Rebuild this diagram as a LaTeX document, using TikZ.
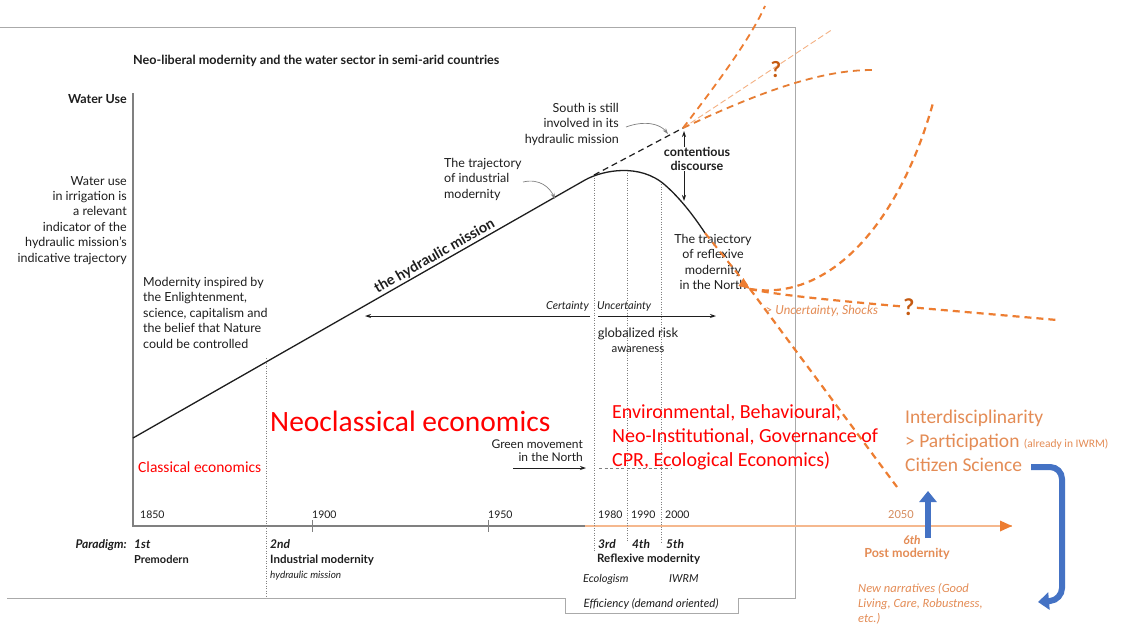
\documentclass[tikz,border=0pt]{standalone}
\usepackage{fontspec}
\setmainfont{Lato}
\newfontfamily\carl{Carlito}
\usetikzlibrary{arrows.meta}
\definecolor{orA}{HTML}{ED7D31}
\definecolor{orT}{RGB}{228,140,85}
\definecolor{orL}{HTML}{F4B183}
\definecolor{orD}{HTML}{C55A11}
\definecolor{blA}{HTML}{4472C4}
\definecolor{frameG}{RGB}{170,170,170}
\definecolor{txtG}{RGB}{30,30,30}
\definecolor{redT}{RGB}{255,0,0}
\newcommand\fz[2]{\fontsize{#1}{#2}\selectfont}
\tikzset{
  lbl/.style={inner sep=0pt, text=txtG},
  dotln/.style={draw=gray, line width=0.7pt, dash pattern=on 1pt off 1.5pt},
  ordash/.style={draw=orA, line width=2.2pt, dash pattern=on 7pt off 5pt},
  blk/.style={draw=txtG, line width=1pt},
  arr/.style={-{Stealth[length=6pt,width=4pt]}},
  redtx/.style={inner sep=0pt, text=redT, font=\carl},
  ortx/.style={inner sep=0pt, text=orT, font=\carl},
}
\begin{document}
\begin{tikzpicture}[x=1pt,y=-1pt]
\useasboundingbox (0,0) rectangle (1128,627);
\fill[white] (0,0) rectangle (1128,627);

% frame
\draw[frameG, line width=0.9pt] (0,27) -- (795,27) -- (795,598) -- (738,598) -- (738,613) -- (565,613) -- (565,598) -- (7,598);

% title
\node[lbl, anchor=base west, font=\bfseries\fz{12.6}{14}] (title) at (133,64) {Neo-liberal modernity and the water sector in semi-arid countries};

% axes
\coordinate (O) at (133,526);
\coordinate (ytop) at (133,93);
\coordinate (xgray) at (585,526);
\coordinate (xend) at (1012,526);
\draw[gray, line width=1.2pt] (ytop) -- (O) -- (xgray);
\draw[orA!55, line width=1.6pt] (xgray) -- (xend);
\fill[orA] (1012,526) -- (1000,520.5) -- (1000,531.5) -- cycle;
\draw[gray, line width=1pt] (312,520) -- (312,532) (488,520) -- (488,532);

\node[lbl, anchor=base east, font=\bfseries\fz{12.5}{14}] (wu) at (127,103) {Water Use};
\node[lbl, anchor=north east, align=right, font=\fz{12.5}{15.4}] (wuText) at (127,176) {Water use\\in irrigation is\\a relevant\\indicator of the\\hydraulic mission's\\indicative trajectory};
\node[lbl, anchor=north west, align=left, font=\fz{12.5}{15.4}] (modText) at (143,277) {Modernity inspired by\\the Enlightenment,\\science, capitalism and\\the belief that Nature\\could be controlled};

% dotted paradigm lines
\draw[dotln] (266,358) -- (266,596);
\draw[dotln] (594,175) -- (594,552);
\draw[dotln] (627,170) -- (627,542);
\draw[dotln] (661,184) -- (661,542);

% main curve
\coordinate (c0) at (133,438);
\coordinate (c1) at (585,180);
\coordinate (cpk) at (665,185);
\coordinate (c2) at (705,233);
\coordinate (oArr) at (750,289);
\draw[txtG, line width=1.3pt] (c0) -- (c1) .. controls (603,170) and (640,163) .. (cpk) .. controls (682,200) and (695,218) .. (c2);
\coordinate (sStart) at (594,175);
\coordinate (sEnd) at (683,128);
\draw[txtG, line width=1.2pt, dash pattern=on 6pt off 4pt] (sStart) -- (sEnd);

\node[lbl, rotate=29.7, anchor=south, font=\bfseries\fz{14.5}{16}] (hm) at (438,262) {the hydraulic mission};

% industrial modernity label
\node[lbl, anchor=north west, align=left, font=\fz{12.5}{15.4}] (indTxt) at (444,158) {The trajectory\\of industrial\\modernity};
\coordinate (indA) at (523,182);
\coordinate (indB) at (555,199);
\draw[gray, line width=0.7pt, arr] (indA) .. controls (540,178) and (550,188) .. (indB);

% south label
\node[lbl, anchor=north east, align=right, font=\fz{12.5}{15.4}] (southTxt) at (619,103) {South is still\\involved in its\\hydraulic mission};
\coordinate (soA) at (626,127);
\coordinate (soB) at (668,134);
\draw[gray, line width=0.7pt, arr] (soA) .. controls (645,120) and (660,124) .. (soB);

% contentious discourse
\coordinate (cdTop) at (684,131);
\coordinate (cdBot) at (684,201);
\draw[txtG, line width=0.8pt, {Stealth[length=6pt,width=4pt]}-{Stealth[length=6pt,width=4pt]}] (cdTop) -- (cdBot);
\node[inner sep=1pt, fill=white, text=txtG, align=center, font=\bfseries\fz{12.5}{13.5}] (cd) at (697,159) {contentious\\discourse};

% reflexive label
\node[lbl, anchor=north, align=center, font=\fz{12.5}{15.4}] (reflTxt) at (713,234) {The trajectory\\of reflexive\\modernity\\in the North};

% orange continuation arrow
\draw[ordash, line width=2pt] (c2) -- (oArr);
\fill[orA] (oArr) -- ++(-11.5,-3) -- ++(5,-8) -- cycle;

% orange futures near top
\coordinate (f1) at (765,6);
\coordinate (f2) at (833,29);
\coordinate (f3) at (872,70);
\draw[ordash, line width=1.8pt] (sEnd) .. controls (712,90) and (750,40) .. (f1);
\draw[orL, line width=0.9pt, dash pattern=on 6pt off 3pt] (sEnd) -- (f2);
\draw[ordash, line width=1.8pt, draw=orA!85!brown] (sEnd) .. controls (760,92) and (820,70) .. (f3);
\node[inner sep=0pt, text=orD, font=\bfseries\fz{22}{24}] (q1) at (776,70) {?};

% orange futures lower
\coordinate (g1) at (933,103);
\coordinate (g2) at (1057,320);
\coordinate (g3) at (897,487);
\draw[ordash] (oArr) .. controls (830,302) and (900,222) .. (g1);
\draw[ordash] (oArr) .. controls (790,298) and (900,306) .. (g2);
\draw[ordash] (oArr) -- (g3);
\node[inner sep=0pt, fill=white, text=orD, font=\bfseries\fz{23}{24}] (q2) at (909,307) {?};
\node[ortx, anchor=west, font=\itshape\fz{12.5}{14}] (unc) at (765,311) {> Uncertainty, Shocks};

% certainty arrows
\coordinate (ceL) at (365,316);
\coordinate (ceR) at (590,316);
\coordinate (unL) at (598,316);
\coordinate (unR) at (716,316);
\draw[txtG, line width=1pt, arr] (ceR) -- (ceL);
\draw[txtG, line width=1pt, arr] (unL) -- (unR);
\node[lbl, anchor=south east, font=\itshape\fz{11}{13}] (cert) at (589,312) {Certainty};
\node[lbl, anchor=south west, font=\itshape\fz{11}{13}] (uncert) at (597,312) {Uncertainty};
\node[lbl, anchor=north, align=center, font=\fz{13}{14.5}] (risk) at (638,328) {globalized risk\\{\fz{11.5}{13}awareness}};

% economics
\node[redtx, anchor=west, font=\carl\fz{29.5}{31}] (neo) at (270,421) {Neoclassical economics};
\node[redtx, anchor=west, font=\carl\fz{15.5}{18}] (cla) at (138,467) {Classical economics};
\node[redtx, anchor=north west, align=left, font=\carl\fz{20}{24}] (env) at (612,404) {Environmental, Behavioural,\\Neo-Institutional, Governance of\\CPR, Ecological Economics)};

% green movement
\node[lbl, anchor=south east, align=right, font=\fz{12}{13}] (green) at (583,462) {Green movement\\in the North};
\coordinate (gmA) at (513,468);
\coordinate (gmB) at (586,468);
\coordinate (gmC) at (599,468);
\coordinate (gmD) at (672,468);
\draw[txtG, line width=0.8pt, arr] (gmA) -- (gmB);
\draw[gray, line width=0.8pt, dash pattern=on 3pt off 2.5pt] (gmC) -- (gmD);

% year labels
\foreach \yr/\xx in {1850/140, 1900/312, 1950/488, 1980/598, 1990/631, 2000/665}
  \node[lbl, anchor=base west, font=\fz{10.5}{12}] (y\yr) at (\xx,518) {\yr};
\node[inner sep=0pt, anchor=base west, text=orT!85!gray, font=\fz{11}{12}] (y2050) at (888,518) {2050};

% paradigms
\node[lbl, anchor=base east, font=\bfseries\itshape\fz{12}{14}] (par) at (127,548) {Paradigm:};
\node[lbl, anchor=base west, font=\bfseries\itshape\fz{12}{14}] (p1) at (134,548) {1st};
\node[lbl, anchor=base west, font=\bfseries\fz{11}{13}] (p1t) at (134,563) {Premodern};
\node[lbl, anchor=base west, font=\bfseries\itshape\fz{12}{14}] (p2) at (270,548) {2nd};
\node[lbl, anchor=base west, font=\bfseries\fz{11.5}{13}] (p2t) at (270,563) {Industrial modernity};
\node[lbl, anchor=base west, font=\itshape\fz{10}{12}] (p2s) at (270,578) {hydraulic mission};
\node[lbl, anchor=base west, font=\bfseries\itshape\fz{12}{14}] (p3) at (598,548) {3rd};
\node[lbl, anchor=base west, font=\bfseries\itshape\fz{12}{14}] (p4) at (632,548) {4th};
\node[lbl, anchor=base west, font=\bfseries\itshape\fz{12}{14}] (p5) at (666,548) {5th};
\node[lbl, anchor=base west, font=\bfseries\fz{11.5}{13}] (p3t) at (597,562) {Reflexive modernity};
\node[lbl, anchor=base west, font=\itshape\fz{11}{13}] (eco) at (583,582) {Ecologism};
\node[lbl, anchor=base west, font=\itshape\fz{11}{13}] (iwrm) at (669,582) {IWRM};
\node[lbl, anchor=center, font=\itshape\fz{11.5}{13}] (eff) at (651,604) {Efficiency (demand oriented)};

% post modernity
\node[inner sep=0pt, text=orT, font=\bfseries\itshape\fz{12}{14}] (p6) at (912,540) {6th};
\node[inner sep=0pt, text=orT, font=\bfseries\fz{12.5}{14}] (p6t) at (907,554) {Post modernity};
\node[ortx, anchor=north west, align=left, font=\carl\itshape\fz{12.5}{15}] (narr) at (858,583) {New narratives (Good\\Living, Care, Robustness,\\etc.)};

\node[ortx, anchor=west, font=\carl\fz{19.5}{22}] (inter) at (905,418) {Interdisciplinarity};
\node[ortx, anchor=west, font=\carl\fz{19.5}{22}] (part) at (905,442) {> Participation {\fz{11.5}{13}(already in IWRM)}};
\node[ortx, anchor=west, font=\carl\fz{19.5}{22}] (cit) at (905,465) {Citizen Science};

% blue arrows
\coordinate (bu1) at (928,538);
\coordinate (bu2) at (928,491);
\draw[blA, line width=6pt, -{Triangle[length=11pt,width=17pt]}] (bu1) -- (bu2);
\coordinate (bb1) at (1031,467);
\coordinate (bb2) at (1062,467);
\coordinate (bb3) at (1062,600);
\coordinate (bb4) at (1038,602);
\draw[blA, line width=6pt, rounded corners=12pt, -{Triangle[length=11pt,width=17pt]}] (bb1) -- (bb2) -- (bb3) -- (bb4);

\end{tikzpicture}
\end{document}
